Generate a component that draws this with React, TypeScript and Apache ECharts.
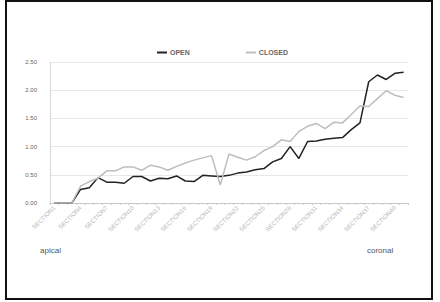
import React, { useEffect, useRef } from "react";
import * as echarts from "echarts";

const categories: string[] = Array.from({ length: 41 }, (_, i) => "SECTION" + (i + 1));

const openValues: number[] = [
  0, 0, 0, 0.24, 0.27, 0.45, 0.37, 0.37, 0.35, 0.47, 0.47, 0.39, 0.44, 0.43, 0.48, 0.39, 0.38,
  0.49, 0.48, 0.47, 0.49, 0.53, 0.55, 0.59, 0.61, 0.73, 0.79, 1.0, 0.79, 1.09, 1.1, 1.13, 1.15,
  1.16, 1.3, 1.42, 2.15, 2.27, 2.19, 2.3, 2.32,
];

const closedValues: number[] = [
  0, 0, 0, 0.3, 0.38, 0.44, 0.57, 0.57, 0.64, 0.64, 0.58, 0.67, 0.64, 0.58, 0.65, 0.71, 0.76,
  0.8, 0.84, 0.32, 0.87, 0.81, 0.76, 0.82, 0.93, 1.0, 1.12, 1.09, 1.27, 1.36, 1.41, 1.32, 1.43,
  1.42, 1.57, 1.72, 1.71, 1.85, 1.99, 1.91, 1.87,
];

const seriesNames: string[] = ["OPEN", "CLOSED"];
const sideLabels: string[] = ["apical", "coronal"];

export default function App() {
  const ref = useRef<HTMLDivElement>(null);
  useEffect(() => {
    if (!ref.current) return;
    const chart = echarts.init(ref.current, null, { renderer: "svg" });
    const font = "Arial, 'Liberation Sans', sans-serif";
    chart.setOption({
      animation: false,
      backgroundColor: "#ffffff",
      textStyle: { fontFamily: font },
      legend: {
        left: 152,
        top: 44,
        itemWidth: 10,
        itemHeight: 2,
        itemGap: 56,
        icon: "rect",
        textStyle: { fontSize: 7, color: "#666", fontWeight: "bold", padding: [0, 0, 0, -2] },
        data: seriesNames,
      },
      grid: { left: 50, right: 32, top: 62, bottom: 99, containLabel: false },
      xAxis: {
        type: "category",
        data: categories,
        boundaryGap: true,
        axisLine: { show: true, lineStyle: { color: "#c8c8c8", width: 1 } },
        axisTick: { show: true, interval: 0, length: 2, lineStyle: { color: "#c8c8c8" } },
        axisLabel: {
          interval: 2,
          rotate: 45,
          fontSize: 6,
          color: "#b5b5b5",
          margin: 4,
        },
        splitLine: { show: false },
      },
      yAxis: {
        type: "value",
        min: 0,
        max: 2.5,
        interval: 0.5,
        axisLine: { show: true, lineStyle: { color: "#d8d8d8" } },
        axisTick: { show: false },
        axisLabel: {
          fontSize: 6,
          color: "#666",
          margin: 13,
          formatter: (v: number) => v.toFixed(2),
        },
        splitLine: { show: true, lineStyle: { color: "#e8e8e8", width: 1 } },
      },
      series: [
        {
          name: seriesNames[0],
          type: "line",
          data: openValues,
          showSymbol: false,
          symbol: "none",
          itemStyle: { color: "#222222" },
          lineStyle: { color: "#222222", width: 1.5 },
        },
        {
          name: seriesNames[1],
          type: "line",
          data: closedValues,
          showSymbol: false,
          symbol: "none",
          itemStyle: { color: "#bdbdbd" },
          lineStyle: { color: "#bdbdbd", width: 1.5 },
        },
      ],
      graphic: [
        {
          type: "rect",
          shape: { x: 6, y: 1, width: 426, height: 298 },
          style: { fill: "none", stroke: "#111", lineWidth: 2 },
          silent: true,
        },
        {
          type: "text",
          left: 40,
          top: 246,
          style: { text: sideLabels[0], fill: "#555555", font: `8px ${font}` },
        },
        {
          type: "text",
          left: 367,
          top: 246,
          style: { text: sideLabels[1], fill: "#555555", font: `8px ${font}` },
        },
      ],
    });
    return () => chart.dispose();
  }, []);
  return (
    <div
      ref={ref}
      style={{ position: "fixed", left: 0, top: 0, width: 440, height: 302 }}
    />
  );
}
